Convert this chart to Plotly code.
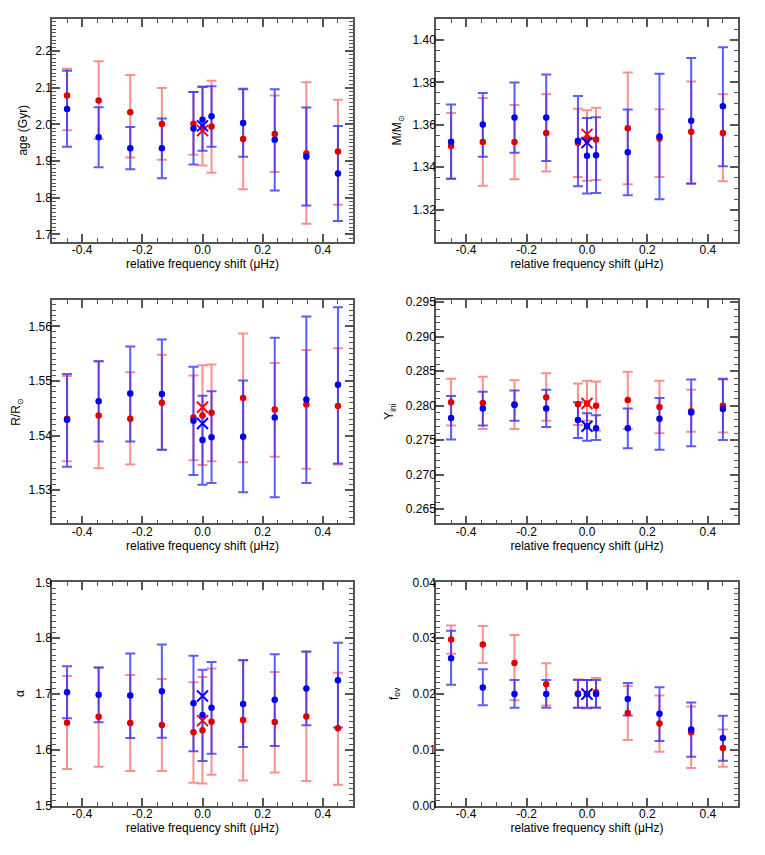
import plotly.graph_objects as go

# relative frequency shift (muHz) for each fit
shift = [-0.45, -0.345, -0.24, -0.135, -0.03, 0.0, 0.03, 0.135, 0.24, 0.345, 0.45]
x_tickvals = [-0.4, -0.2, 0.0, 0.2, 0.4]
x_ticktext = ["-0.4", "-0.2", "0.0", "0.2", "0.4"]

# age (Gyr)
age_red = [2.079, 2.065, 2.033, 2.001, 2.002, 1.990, 1.994, 1.960, 1.974, 1.921, 1.926]
age_red_hi = [2.152, 2.172, 2.135, 2.099, 2.088, 2.104, 2.119, 2.098, 2.079, 2.115, 2.067]
age_red_lo = [1.984, 1.960, 1.910, 1.904, 1.917, 1.888, 1.868, 1.823, 1.870, 1.729, 1.781]
age_blue = [2.042, 1.965, 1.935, 1.935, 1.989, 2.013, 2.022, 2.004, 1.958, 1.912, 1.866]
age_blue_hi = [2.146, 2.047, 1.993, 2.016, 2.088, 2.102, 2.104, 2.096, 2.096, 2.046, 1.996]
age_blue_lo = [1.939, 1.883, 1.878, 1.853, 1.891, 1.928, 1.939, 1.912, 1.820, 1.779, 1.737]
age_ref = [1.983, 1.996]  # red cross, blue cross

# mass
mass_red = [1.3500, 1.3519, 1.3519, 1.3562, 1.3516, 1.3528, 1.3531, 1.3584, 1.3536, 1.3567, 1.3562]
mass_red_hi = [1.3656, 1.3726, 1.3693, 1.3744, 1.3676, 1.3669, 1.3681, 1.3847, 1.3673, 1.3804, 1.3744]
mass_red_lo = [1.3346, 1.3313, 1.3343, 1.3380, 1.3354, 1.3337, 1.3340, 1.3320, 1.3354, 1.3325, 1.3334]
mass_blue = [1.3520, 1.3602, 1.3635, 1.3635, 1.3525, 1.3454, 1.3457, 1.3471, 1.3545, 1.3619, 1.3687]
mass_blue_hi = [1.3696, 1.3750, 1.3800, 1.3837, 1.3736, 1.3632, 1.3636, 1.3672, 1.3841, 1.3915, 1.3966]
mass_blue_lo = [1.3346, 1.3450, 1.3468, 1.3430, 1.3311, 1.3276, 1.3279, 1.3268, 1.3249, 1.3322, 1.3405]
mass_ref = [1.3555, 1.3516]

# radius
rad_red = [1.5431, 1.5437, 1.5431, 1.5460, 1.5433, 1.5437, 1.5442, 1.5469, 1.5448, 1.5457, 1.5454]
rad_red_hi = [1.5509, 1.5536, 1.5516, 1.5548, 1.5510, 1.5529, 1.5530, 1.5587, 1.5533, 1.5557, 1.5560]
rad_red_lo = [1.5353, 1.5340, 1.5347, 1.5374, 1.5355, 1.5346, 1.5353, 1.5351, 1.5361, 1.5339, 1.5347]
rad_blue = [1.5429, 1.5463, 1.5477, 1.5476, 1.5427, 1.5392, 1.5397, 1.5398, 1.5433, 1.5466, 1.5493]
rad_blue_hi = [1.5513, 1.5536, 1.5563, 1.5576, 1.5526, 1.5473, 1.5481, 1.5501, 1.5579, 1.5618, 1.5635]
rad_blue_lo = [1.5343, 1.5389, 1.5389, 1.5374, 1.5328, 1.5310, 1.5313, 1.5296, 1.5287, 1.5313, 1.5349]
rad_ref = [1.5452, 1.5422]

# initial helium
yini_red = [0.2805, 0.2804, 0.2802, 0.2812, 0.2802, 0.2803, 0.2800, 0.2808, 0.2798, 0.2792, 0.2800]
yini_red_hi = [0.2839, 0.2842, 0.2837, 0.2847, 0.2832, 0.2836, 0.2835, 0.2849, 0.2836, 0.2823, 0.2838]
yini_red_lo = [0.2771, 0.2766, 0.2766, 0.2778, 0.2772, 0.2778, 0.2764, 0.2766, 0.2760, 0.2762, 0.2761]
yini_blue = [0.2782, 0.2796, 0.2801, 0.2796, 0.2779, 0.2770, 0.2767, 0.2767, 0.2781, 0.2790, 0.2795]
yini_blue_hi = [0.2814, 0.2820, 0.2822, 0.2823, 0.2805, 0.2789, 0.2786, 0.2796, 0.2811, 0.2838, 0.2839]
yini_blue_lo = [0.2751, 0.2771, 0.2778, 0.2769, 0.2753, 0.2749, 0.2750, 0.2738, 0.2736, 0.2741, 0.2750]
yini_ref = [0.2803, 0.2770]

# mixing length
alpha_red = [1.6488, 1.6594, 1.6482, 1.6447, 1.6318, 1.6353, 1.6506, 1.6535, 1.6500, 1.6600, 1.6388]
alpha_red_hi = [1.7324, 1.7476, 1.7341, 1.7271, 1.7212, 1.7306, 1.7459, 1.7612, 1.7394, 1.7760, 1.7382]
alpha_red_lo = [1.5659, 1.5700, 1.5624, 1.5624, 1.5412, 1.5400, 1.5553, 1.5453, 1.5594, 1.5441, 1.5376]
alpha_blue = [1.7035, 1.6988, 1.6976, 1.7053, 1.6835, 1.6624, 1.6753, 1.6824, 1.6900, 1.7100, 1.7247]
alpha_blue_hi = [1.7500, 1.7476, 1.7729, 1.7888, 1.7688, 1.7435, 1.7576, 1.7606, 1.7712, 1.7765, 1.7918]
alpha_blue_lo = [1.6565, 1.6494, 1.6212, 1.6218, 1.5976, 1.5800, 1.5929, 1.6053, 1.6071, 1.6441, 1.6400]
alpha_ref = [1.6524, 1.6965]

# overshoot
fov_red = [0.02976, 0.02888, 0.02559, 0.02176, 0.02010, 0.02000, 0.02035, 0.01659, 0.01471, 0.01318, 0.01035]
fov_red_hi = [0.03229, 0.03218, 0.03059, 0.02553, 0.02265, 0.02253, 0.02288, 0.02147, 0.01976, 0.01776, 0.01365]
fov_red_lo = [0.02724, 0.02559, 0.01888, 0.01794, 0.01753, 0.01741, 0.01759, 0.01176, 0.00965, 0.00676, 0.00700]
fov_blue = [0.02641, 0.02118, 0.02000, 0.02000, 0.02000, 0.02000, 0.02000, 0.01912, 0.01647, 0.01365, 0.01212]
fov_blue_hi = [0.03135, 0.02447, 0.02253, 0.02253, 0.02253, 0.02253, 0.02253, 0.02200, 0.02124, 0.01847, 0.01612]
fov_blue_lo = [0.02165, 0.01800, 0.01753, 0.01753, 0.01753, 0.01753, 0.01753, 0.01618, 0.01159, 0.00876, 0.00806]
fov_ref = [0.0200, 0.0200]

# (title, data..., y range, major step, minor step, format, title x in px)
panels = [
    ("age (Gyr)", age_red, age_red_hi, age_red_lo, age_blue, age_blue_hi, age_blue_lo, age_ref,
     [1.679, 2.2875], 0.1, 0.01, ".1f", 23),
    ("M/M<sub>⊙</sub>", mass_red, mass_red_hi, mass_red_lo, mass_blue, mass_blue_hi, mass_blue_lo, mass_ref,
     [1.3047, 1.4099], 0.02, 0.005, ".2f", 398),
    ("R/R<sub>⊙</sub>", rad_red, rad_red_hi, rad_red_lo, rad_blue, rad_blue_hi, rad_blue_lo, rad_ref,
     [1.5239, 1.5648], 0.01, 0.001, ".2f", 17),
    ("Y<sub>ini</sub>", yini_red, yini_red_hi, yini_red_lo, yini_blue, yini_blue_hi, yini_blue_lo, yini_ref,
     [0.2629, 0.2953], 0.005, 0.001, ".3f", 390),
    ("α", alpha_red, alpha_red_hi, alpha_red_lo, alpha_blue, alpha_blue_hi, alpha_blue_lo, alpha_ref,
     [1.5, 1.9], 0.1, 0.01, ".1f", 20),
    ("f<sub>ov</sub>", fov_red, fov_red_hi, fov_red_lo, fov_blue, fov_blue_hi, fov_blue_lo, fov_ref,
     [0.0, 0.04], 0.01, 0.001, ".2f", 395),
]

# the page body has an 8px margin, so the figure sits at (8, 8)
OFF = 8
W, H = 765 - OFF, 855 - OFF
col_px = [(52, 353), (436, 738)]
row_px = [(12, 239), (298, 525), (585, 812)]

font = dict(family="Liberation Sans, Arial, sans-serif", size=12, color="black")
axcol = "#555555"

fig = go.Figure()
layout = dict(width=W, height=H, margin=dict(l=0, r=0, t=0, b=0),
              paper_bgcolor="white", plot_bgcolor="white", showlegend=False, font=font)
annotations = []

for i, (title, r, rhi, rlo, b, bhi, blo, ref, yr, dt, mdt, fmt, tx) in enumerate(panels):
    n = i + 1
    xa = "x" if n == 1 else f"x{n}"
    ya = "y" if n == 1 else f"y{n}"
    c0, c1 = [p - OFF for p in col_px[i % 2]]
    r0, r1 = [p - OFF for p in row_px[i // 2]]

    series = [(r, rhi, rlo, "#dc0000", "rgba(255,60,60,0.58)"),
              (b, bhi, blo, "#0000f0", "rgba(30,30,255,0.72)")]
    # error bars first, then the dots on top
    for vals, hi, lo, mc, bc in series:
        fig.add_trace(go.Scatter(
            x=shift, y=vals, mode="markers", xaxis=xa, yaxis=ya,
            marker=dict(color="rgba(0,0,0,0)", size=1),
            error_y=dict(type="data", symmetric=False,
                         array=[h - v for h, v in zip(hi, vals)],
                         arrayminus=[v - l for v, l in zip(vals, lo)],
                         color=bc, thickness=2, width=5)))
    for vals, hi, lo, mc, bc in series:
        fig.add_trace(go.Scatter(
            x=shift, y=vals, mode="markers", xaxis=xa, yaxis=ya,
            marker=dict(color=mc, size=6.5)))
    for val, c in zip(ref, ["#ff0000", "#0000ff"]):
        fig.add_trace(go.Scatter(
            x=[0.0], y=[val], mode="markers", xaxis=xa, yaxis=ya,
            marker=dict(symbol="x-thin", size=11, line=dict(width=2, color=c))))

    common = dict(showline=True, linecolor=axcol, linewidth=1.5, mirror="ticks",
                  ticks="inside", tickcolor=axcol, tickwidth=1.5, ticklen=8,
                  showgrid=False, zeroline=False, tickfont=font)
    layout["xaxis" + ("" if n == 1 else str(n))] = dict(
        common, domain=[c0 / W, c1 / W], range=[-0.5, 0.5], anchor=ya,
        tickmode="array", tickvals=x_tickvals, ticktext=x_ticktext, ticklabelstandoff=-4,
        minor=dict(dtick=0.05, tick0=0, ticklen=4, tickcolor=axcol, tickwidth=1.2, ticks="inside"),
        title=dict(text="relative frequency shift (μHz)", font=font, standoff=0))
    layout["yaxis" + ("" if n == 1 else str(n))] = dict(
        common, domain=[1 - r1 / H, 1 - r0 / H], range=yr, anchor=xa,
        tick0=0, dtick=dt, tickformat=fmt, ticklabelstandoff=-4,
        minor=dict(dtick=mdt, tick0=0, ticklen=4, tickcolor=axcol, tickwidth=1.2, ticks="inside"))
    annotations.append(dict(text=title, textangle=-90, showarrow=False, font=font,
                            xref="paper", yref="paper", x=(tx - OFF) / W,
                            y=1 - ((r0 + r1) / 2) / H, xanchor="center", yanchor="middle"))

layout["annotations"] = annotations
fig.update_layout(**layout)
fig.write_html("out.html")
